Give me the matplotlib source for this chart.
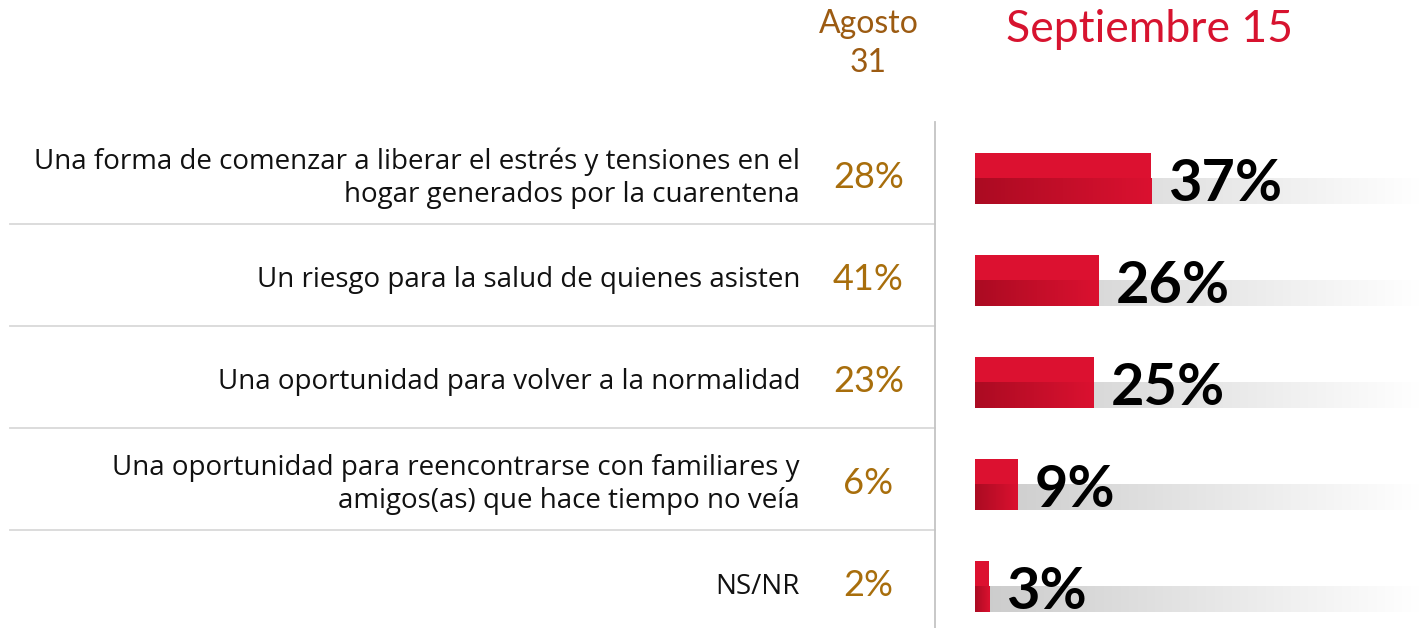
import numpy as np
import matplotlib.pyplot as plt
from matplotlib.colors import to_rgb

labels = ["Una forma de comenzar a liberar el estrés y tensiones en el\nhogar generados por la cuarentena",
          "Un riesgo para la salud de quienes asisten",
          "Una oportunidad para volver a la normalidad",
          "Una oportunidad para reencontrarse con familiares y\namigos(as) que hace tiempo no veía",
          "NS/NR"]
agosto = [28, 41, 23, 6, 2]
septiembre = [37, 26, 25, 9, 3]

plt.rcParams['font.family'] = ['Lato', 'DejaVu Sans']

# layout helpers: pixel -> data units (bar axis starts at x=975px, rows 102px apart)
PX = 4.76
X = lambda p: (p - 975) / PX
Y = lambda p: (p - 178.5) / 102

fig = plt.figure(figsize=(14.2, 6.28), dpi=100)
ax = fig.add_axes([0, 0, 1, 1])


def grad(c1, c2, n=256):
    a = np.array(to_rgb(c1))
    b = np.array(to_rgb(c2))
    t = np.linspace(0, 1, n)[:, None]
    return (a + (b - a) * t)[None, :, :]


xmax = X(1420)
for i, (lab, a, s) in enumerate(zip(labels, agosto, septiembre)):
    # grey track
    ax.imshow(grad('#cbcbcb', '#ffffff'), extent=(0, xmax, i + 0.25, i), aspect='auto', zorder=1)
    # bar: light top half, darker gradient lower half
    ax.barh(i - 0.125, s, height=0.25, left=0, color='#dc1130', zorder=2)
    ax.imshow(grad('#ab0b22', '#db1130'), extent=(0, s, i + 0.25, i), aspect='auto', zorder=3)
    ax.text(s + 3.6, i + 0.225, f'{s}%', fontsize=41.5, fontweight='bold', va='baseline',
            ha='left', color='black', zorder=4)
    ax.text(X(868.5), i + 0.09, f'{a}%', fontsize=26, color='#a86e0c', ha='center', va='baseline')
    ax.text(X(800), i, lab, ha='right', va='center', fontsize=20, linespacing=1.22,
            color='#111111', family=['Open Sans', 'DejaVu Sans'])

for i in range(len(labels) - 1):
    ax.plot([X(10), X(935)], [i + 0.445, i + 0.445], color='#d9d9d9', lw=1.3, zorder=0)
ax.plot([X(935), X(935)], [Y(122), Y(628)], color='#c4c4c4', lw=1.3, zorder=0)

ax.text(X(868.5), Y(33), 'Agosto', fontsize=23, color='#9c5b12', ha='center', va='baseline')
ax.text(X(868.5), Y(72), '31', fontsize=23, color='#9c5b12', ha='center', va='baseline')
ax.text(X(1150), Y(42), 'Septiembre 15', fontsize=32, color='#d7132f', ha='center', va='baseline')

ax.set_xlim(X(0), xmax)
ax.set_ylim(Y(628), Y(0))
ax.axis('off')

fig.savefig('out.png', dpi=100)
